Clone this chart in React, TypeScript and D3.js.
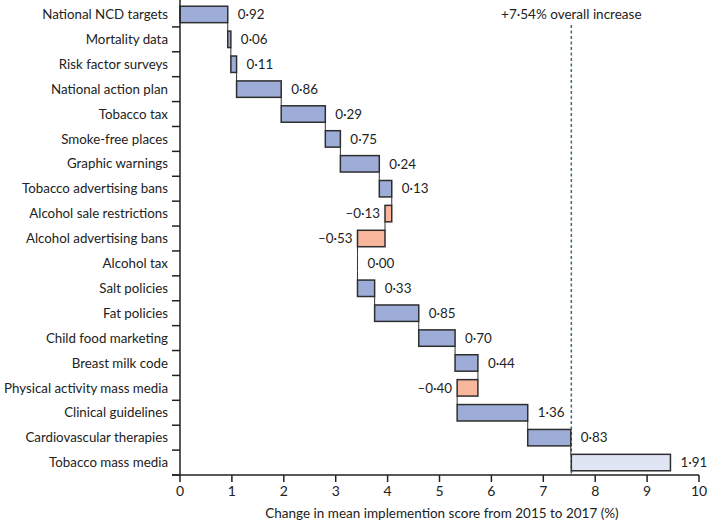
import React from "react";
import * as d3 from "d3";

const categories = [
  "National NCD targets",
  "Mortality data",
  "Risk factor surveys",
  "National action plan",
  "Tobacco tax",
  "Smoke-free places",
  "Graphic warnings",
  "Tobacco advertising bans",
  "Alcohol sale restrictions",
  "Alcohol advertising bans",
  "Alcohol tax",
  "Salt policies",
  "Fat policies",
  "Child food marketing",
  "Breast milk code",
  "Physical activity mass media",
  "Clinical guidelines",
  "Cardiovascular therapies",
  "Tobacco mass media",
];

// bar changes as drawn (last one is the bar starting at the overall increase)
const deltas = [0.92, 0.06, 0.11, 0.86, 0.85, 0.29, 0.75, 0.24, -0.13, -0.53, 0.0, 0.33, 0.85, 0.7, 0.44, -0.4, 1.36, 0.83, 1.91];
// value labels as printed
const valueLabels = ["0·92", "0·06", "0·11", "0·86", "0·29", "0·75", "0·24", "0·13", "–0·13", "–0·53", "0·00", "0·33", "0·85", "0·70", "0·44", "–0·40", "1·36", "0·83", "1·91"];
const overall = 7.54;
const overallLabel = "+7·54% overall increase";
const xTicks = [0, 1, 2, 3, 4, 5, 6, 7, 8, 9, 10];
const xTitle = "Change in mean implemention score from 2015 to 2017 (%)";

const W = 707, H = 524;
const FONT = "Lato, 'Noto Sans', sans-serif";

export default function App() {
  const x = d3.scaleLinear().domain([0, 10]).range([180, 699]);
  const y = d3.scaleBand<string>().domain(categories).range([2, 475]).paddingInner(0.34).paddingOuter(0.17);
  const step = y.step();

  let cum = 0;
  const bars = categories.map((c, i) => {
    const d = deltas[i];
    let start: number, end: number;
    if (i === categories.length - 1) {
      start = overall;
      end = overall + d;
    } else {
      start = cum;
      end = cum + d;
      cum = end;
    }
    return { c, i, d, start, end };
  });

  const posFill = "#9dadd7";
  const negFill = "#f8b79c";
  const lastFill = "#dfe5f3";
  const stroke = "#2e2e2e";

  return (
    <svg width={W} height={H} style={{ position: "absolute", left: 0, top: 0, background: "#fff" }}>
      {/* dashed overall line */}
      <line x1={x(overall)} x2={x(overall)} y1={25} y2={475} stroke="#3e6a78" strokeWidth={1.5} strokeDasharray="3,2.5" />
      <text x={x(overall)} y={19} textAnchor="middle" fontFamily={FONT} fontSize={13.5} fill="#222">{overallLabel}</text>

      {/* connectors */}
      {bars.slice(0, bars.length - 1).map((b, k) => {
        const next = bars[k + 1];
        const yb = (y(b.c) as number) + y.bandwidth();
        const yn = y(next.c) as number;
        return <line key={"c" + k} x1={x(b.end)} x2={x(b.end)} y1={yb} y2={yn} stroke="#333" strokeWidth={1} />;
      })}
      {bars.filter((b) => b.d === 0).map((b) => (
        <line key={"z" + b.i} x1={x(b.start)} x2={x(b.start)} y1={y(b.c) as number} y2={(y(b.c) as number) + y.bandwidth()} stroke="#333" strokeWidth={1} />
      ))}

      {/* bars */}
      {bars.filter((b) => b.d !== 0).map((b) => {
        const x0 = x(Math.min(b.start, b.end));
        const x1 = x(Math.max(b.start, b.end));
        const fill = b.i === bars.length - 1 ? lastFill : b.d < 0 ? negFill : posFill;
        return (
          <rect key={"b" + b.i} x={x0} y={y(b.c) as number} width={x1 - x0} height={y.bandwidth()} fill={fill} stroke={stroke} strokeWidth={1.5} />
        );
      })}

      {/* value labels */}
      {bars.map((b) => {
        const cy = (y(b.c) as number) + y.bandwidth() / 2;
        const neg = b.d < 0;
        const xx = neg ? x(Math.min(b.start, b.end)) - 5 : x(Math.max(b.start, b.end)) + 10;
        return (
          <text key={"v" + b.i} x={xx} y={cy} dy="0.35em" textAnchor={neg ? "end" : "start"} fontFamily={FONT} fontSize={13.4} fill="#222">
            {valueLabels[b.i]}
          </text>
        );
      })}

      {/* y axis */}
      <line x1={180} x2={180} y1={0} y2={475} stroke="#222" strokeWidth={1.5} />
      {categories.map((c, i) => {
        const ty = (y(c) as number) - step * y.paddingInner() / 2 + step;
        return <line key={"yt" + i} x1={172} x2={180} y1={ty} y2={ty} stroke="#222" strokeWidth={1.5} />;
      })}
      {categories.map((c) => (
        <text key={"yl" + c} x={168} y={(y(c) as number) + y.bandwidth() / 2} dy="0.35em" textAnchor="end" fontFamily={FONT} fontSize={13.3} fill="#222">
          {c}
        </text>
      ))}

      {/* x axis */}
      <line x1={172} x2={699} y1={475} y2={475} stroke="#222" strokeWidth={1.5} />
      {xTicks.map((t) => (
        <g key={"xt" + t}>
          <line x1={x(t)} x2={x(t)} y1={475} y2={482} stroke="#222" strokeWidth={1.5} />
          <text x={x(t)} y={496} textAnchor="middle" fontFamily={FONT} fontSize={14} fill="#222">{t}</text>
        </g>
      ))}
      <text x={442} y={518} textAnchor="middle" fontFamily={FONT} fontSize={13.5} fill="#222">{xTitle}</text>
    </svg>
  );
}
